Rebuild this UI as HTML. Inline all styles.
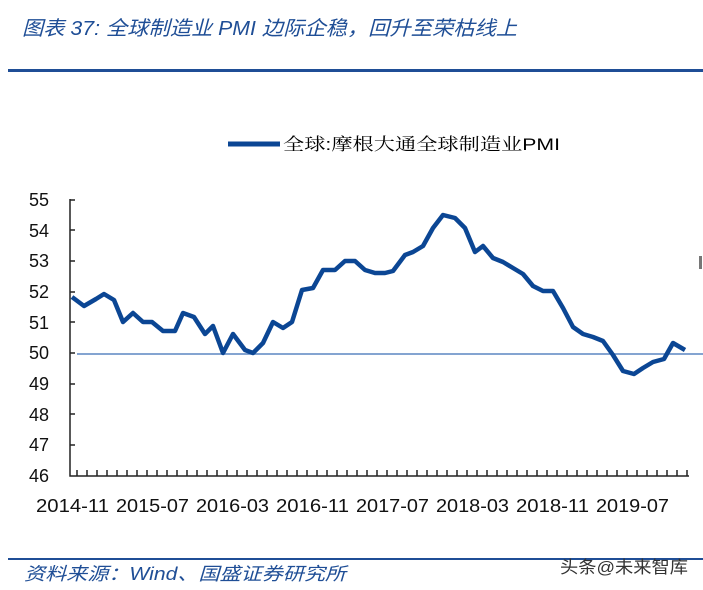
<!DOCTYPE html>
<html><head><meta charset="utf-8"><style>
body{margin:0;background:#fff;width:703px;height:590px;overflow:hidden}
svg{display:block}
</style></head><body>
<svg width="703" height="590" xmlns="http://www.w3.org/2000/svg">
<text x="22" y="35" font-family="'Liberation Sans','Noto Sans CJK SC',sans-serif" font-size="20" font-style="italic" fill="#1f4e96" textLength="495" lengthAdjust="spacingAndGlyphs">图表 37: 全球制造业 PMI 边际企稳，回升至荣枯线上</text>
<rect x="8" y="69" width="695" height="3" fill="#1f4e96"/>
<line x1="228" y1="144" x2="280" y2="144" stroke="#0b4694" stroke-width="5"/>
<text x="283" y="150" font-family="'Liberation Sans','Noto Serif CJK SC',sans-serif" font-size="17" fill="#000" textLength="277" lengthAdjust="spacingAndGlyphs">全球:摩根大通全球制造业PMI</text>
<g font-family="'Liberation Sans',sans-serif" font-size="18" fill="#111" text-anchor="end">
<text x="49" y="206">55</text><text x="49" y="237">54</text><text x="49" y="267">53</text><text x="49" y="298">52</text><text x="49" y="329">51</text><text x="49" y="359">50</text><text x="49" y="390">49</text><text x="49" y="421">48</text><text x="49" y="451">47</text><text x="49" y="482">46</text>
</g>
<line x1="77" y1="354" x2="703" y2="354" stroke="#5b86c2" stroke-width="1.5"/>
<g stroke="#222" stroke-width="1.5" fill="none">
<path d="M70 199V476H689"/>
<path d="M70 200h5M70 230h5M70 261h5M70 292h5M70 322h5M70 353h5M70 384h5M70 414h5M70 445h5"/>
<path d="M77 476v-6M87 476v-6M97 476v-6M107 476v-6M117 476v-6M127 476v-6M137 476v-6M147 476v-6M157 476v-6M167 476v-6M177 476v-6M187 476v-6M197 476v-6M207 476v-6M217 476v-6M227 476v-6M237 476v-6M247 476v-6M257 476v-6M267 476v-6M277 476v-6M287 476v-6M297 476v-6M307 476v-6M317 476v-6M327 476v-6M337 476v-6M347 476v-6M357 476v-6M367 476v-6M377 476v-6M387 476v-6M397 476v-6M407 476v-6M417 476v-6M427 476v-6M437 476v-6M447 476v-6M457 476v-6M467 476v-6M477 476v-6M487 476v-6M497 476v-6M507 476v-6M517 476v-6M527 476v-6M537 476v-6M547 476v-6M557 476v-6M567 476v-6M577 476v-6M587 476v-6M597 476v-6M607 476v-6M617 476v-6M627 476v-6M637 476v-6M647 476v-6M657 476v-6M667 476v-6M677 476v-6M687 476v-6"/>
</g>
<polyline fill="none" stroke="#0b4694" stroke-width="4.5" stroke-linejoin="round" points="72,297 84,306 96,299 104,294 114,300 123,322 133,313 143,322 152,322 163,331 175,331 183,313 194,317 205,334 213,326 223,353 233,334 245,350 253,353 263,343 273,322 283,328 292,322 302,290 313,288 323,270 335,270 345,261 355,261 365,270 375,273 385,273 393,271 405,255 413,252 423,246 433,228 443,215 455,218 465,228 475,252 483,246 493,258 503,262 513,268 523,274 533,286 543,291 553,291 563,308 573,327 583,334 593,337 603,341 613,355 623,371 634,374 643,368 653,362 664,359 673,343 685,350"/>
<g font-family="'Liberation Sans',sans-serif" font-size="18" fill="#111">
<text x="36" y="512" textLength="73" lengthAdjust="spacingAndGlyphs">2014-11</text><text x="116" y="512" textLength="73" lengthAdjust="spacingAndGlyphs">2015-07</text><text x="196" y="512" textLength="73" lengthAdjust="spacingAndGlyphs">2016-03</text><text x="276" y="512" textLength="73" lengthAdjust="spacingAndGlyphs">2016-11</text><text x="356" y="512" textLength="73" lengthAdjust="spacingAndGlyphs">2017-07</text><text x="436" y="512" textLength="73" lengthAdjust="spacingAndGlyphs">2018-03</text><text x="516" y="512" textLength="73" lengthAdjust="spacingAndGlyphs">2018-11</text><text x="596" y="512" textLength="73" lengthAdjust="spacingAndGlyphs">2019-07</text>
</g>
<rect x="699" y="256" width="3" height="13" fill="#777"/>
<rect x="8" y="558" width="695" height="2" fill="#1f4e96"/>
<text x="24" y="580" font-family="'Liberation Sans','Noto Sans CJK SC',sans-serif" font-size="18" font-style="italic" fill="#1f4e96" textLength="322" lengthAdjust="spacingAndGlyphs">资料来源：Wind、国盛证券研究所</text>
<text x="560" y="573" font-family="'Liberation Sans','Noto Sans CJK SC',sans-serif" font-size="17" fill="#333" textLength="128" lengthAdjust="spacingAndGlyphs">头条@未来智库</text>
</svg>
</body></html>
